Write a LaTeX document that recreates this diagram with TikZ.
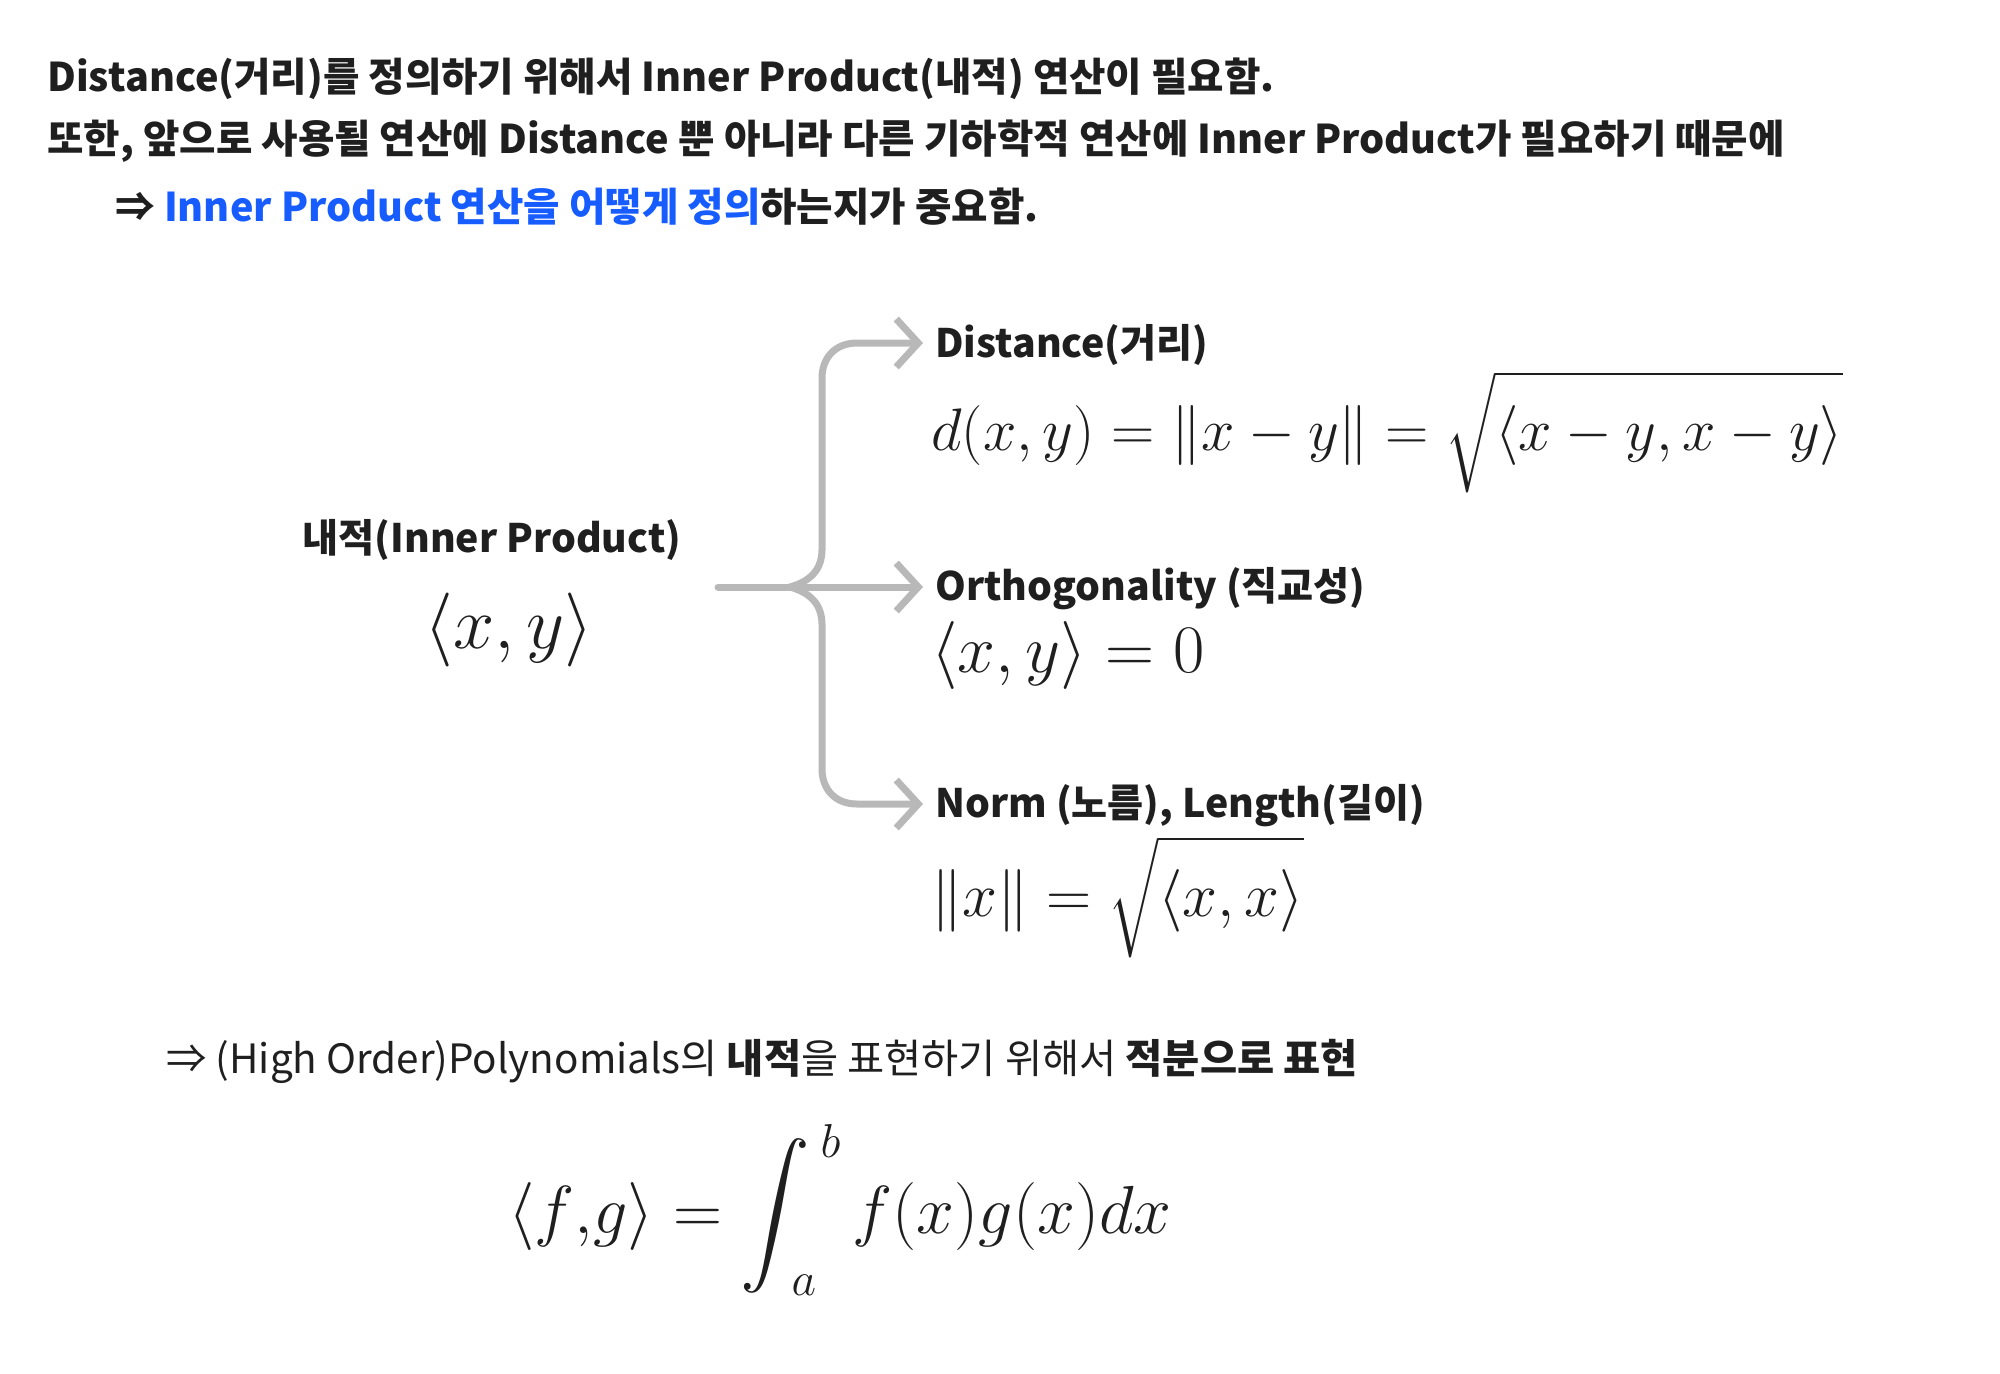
\RequirePackage{fix-cm}
\documentclass[tikz,border=0pt]{standalone}
\usepackage[no-math]{fontspec}
\usepackage{amsmath}
\usepackage{graphicx}
\usetikzlibrary{arrows.meta}
\newfontfamily\kr{Noto Sans CJK KR}
\definecolor{ink}{HTML}{1F1F1F}
\definecolor{hl}{RGB}{22,92,255}
\definecolor{conn}{HTML}{B8B8B8}
\newcommand{\bigint}{\mathop{\vcenter{\hbox{\scalebox{1.4}{$\displaystyle\int$}}}}\nolimits}
\tikzset{
  txt/.style={inner sep=0pt, anchor=west, text=ink, font=\kr\fontsize{20.2}{24}\selectfont},
  btxt/.style={txt, font=\kr\bfseries\fontsize{19.6}{24}\selectfont},
  htxt/.style={txt, font=\kr\bfseries\fontsize{19.8}{24}\selectfont},
  mth/.style={inner sep=0pt, anchor=base west, text=ink},
  link/.style={conn, line width=3.5pt, line cap=round, line join=round},
  arr/.style={link, -{Straight Barb[length=11pt,width=24pt,line width=3.5pt]}}
}
\begin{document}
\begin{tikzpicture}[x=0.5pt,y=-0.5pt]
\useasboundingbox (0,0) rectangle (2000,1373);
% header lines
\node[htxt] (l1) at (47,79) {Distance(거리)를 정의하기 위해서 Inner Product(내적) 연산이 필요함.};
\node[htxt] (l2) at (47,141) {또한, 앞으로 사용될 연산에 Distance 뿐 아니라 다른 기하학적 연산에 Inner Product가 필요하기 때문에};
\node[htxt] (l3) at (115,207) {⇒ \textcolor{hl}{Inner Product 연산을 어떻게 정의}하는지가 중요함.};
% left node
\node[btxt, anchor=center] (ip) at (492,540) {내적(Inner Product)};
\node[mth, anchor=base] (ipm) at (509,648) {\fontsize{37}{44}\selectfont $\langle x, y\rangle$};
% connectors
\coordinate (j) at (790,587);
\coordinate (s) at (718,587);
\coordinate (t1) at (923,343);
\coordinate (t2) at (923,587);
\coordinate (t3) at (923,804);
\draw[link] (s) -- (j);
\draw[arr] (j) .. controls (815,580) and (822,565) .. (822,550) -- (822,378)
  .. controls (822,358) and (835,343) .. (857,343) -- (t1);
\draw[arr] (j) .. controls (815,594) and (822,609) .. (822,624) -- (822,769)
  .. controls (822,789) and (835,804) .. (857,804) -- (t3);
\draw[arr] (j) -- (t2);
% right labels
\node[btxt] (d) at (935,345) {Distance(거리)};
\node[mth] (dm) at (931,450) {\fontsize{30}{36}\selectfont $d(x,y) = \|x-y\| = \sqrt{\vphantom{\big(}\langle x-y, x-y\rangle}$};
\node[btxt] (o) at (935,589) {Orthogonality (직교성)};
\node[mth] (om) at (931,672) {\fontsize{34}{40}\selectfont $\langle x, y\rangle = 0$};
\node[btxt] (n) at (935,806) {Norm (노름), Length(길이)};
\node[mth] (nm) at (931,916) {\fontsize{31.3}{37}\selectfont $\|x\| = \sqrt{\vphantom{\big(}\langle x, x\rangle}$};
% bottom
\node[txt] (l4) at (166,1061) {⇒ (High Order)Polynomials의 \textbf{내적}을 표현하기 위해서 \textbf{적분으로 표현}};
\node[mth] (im) at (508,1233) {\fontsize{34}{40}\selectfont $\displaystyle \langle f{,}g\rangle = \bigint_{\kern-9.5pt a}^{\kern5pt b} f(x)g(x)dx$};
\end{tikzpicture}
\end{document}
